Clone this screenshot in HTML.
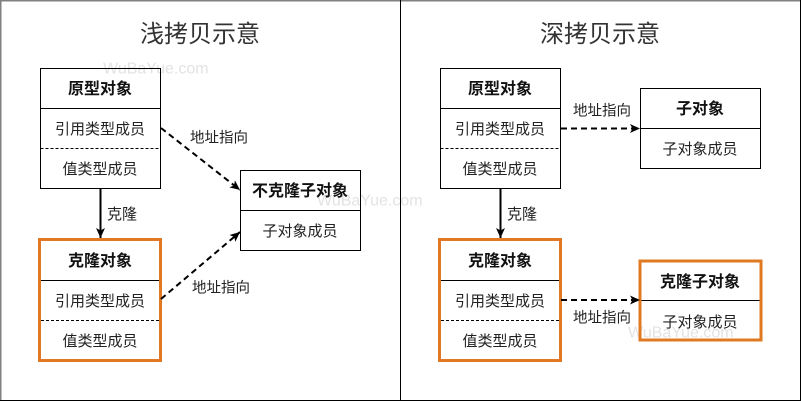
<!DOCTYPE html>
<html><head><meta charset="utf-8"><style>
html,body{margin:0;padding:0;background:#fff;}
svg{display:block;}
text{font-family:"Liberation Sans","Noto Sans CJK SC",sans-serif;fill:#222;}
.t{font-size:15px;text-anchor:middle;dominant-baseline:central;}
.h{font-size:16px;font-weight:bold;text-anchor:middle;dominant-baseline:central;fill:#111;}
.ti{font-size:24px;text-anchor:middle;dominant-baseline:central;fill:#333;}
.l{font-size:14.5px;text-anchor:middle;dominant-baseline:central;fill:#222;}
.w{font-size:16px;fill:#e3e3e3;dominant-baseline:central;font-family:"Liberation Sans",sans-serif;}
</style></head><body>
<svg width="801" height="401" viewBox="0 0 801 401" xmlns="http://www.w3.org/2000/svg">
<defs>
<marker id="ah" markerUnits="userSpaceOnUse" markerWidth="12" markerHeight="10" refX="10" refY="5" orient="auto">
<path d="M0,0.5 L10,5 L0,9.5 L2.5,5 Z" fill="#000"/>
</marker>
</defs>
<rect x="0" y="0" width="801" height="401" fill="#fff"/>
<!-- frame -->
<line x1="0" y1="0.75" x2="801" y2="0.75" stroke="#808080" stroke-width="1.5"/>
<line x1="0.75" y1="0" x2="0.75" y2="401" stroke="#808080" stroke-width="1.5"/>
<line x1="800.5" y1="0" x2="800.5" y2="401" stroke="#000" stroke-width="1"/>
<line x1="0" y1="400.5" x2="801" y2="400.5" stroke="#000" stroke-width="1"/>
<line x1="400.5" y1="0" x2="400.5" y2="401" stroke="#000" stroke-width="1"/>

<!-- watermarks -->
<text class="w" x="103" y="69">WuBaYue.com</text>
<text class="w" x="317" y="201">WuBaYue.com</text>
<text class="w" x="628" y="333">WuBaYue.com</text>

<g transform="translate(0,1.5)">
<text class="ti" x="200" y="33">浅拷贝示意</text>
<text class="h" x="100" y="88">原型对象</text>
<text class="t" x="100" y="128">引用类型成员</text>
<text class="t" x="100" y="168">值类型成员</text>
<text class="h" x="300" y="190">不克隆子对象</text>
<text class="t" x="300" y="230">子对象成员</text>
<text class="t" x="107" y="213" style="text-anchor:start">克隆</text>
<text class="h" x="100" y="260">克隆对象</text>
<text class="t" x="100" y="300">引用类型成员</text>
<text class="t" x="100" y="340">值类型成员</text>
<text class="l" x="219" y="137">地址指向</text>
<text class="l" x="221" y="287">地址指向</text>

<text class="ti" x="600" y="33">深拷贝示意</text>
<text class="h" x="500" y="88">原型对象</text>
<text class="t" x="500" y="128">引用类型成员</text>
<text class="t" x="500" y="168">值类型成员</text>
<text class="h" x="700" y="108">子对象</text>
<text class="t" x="700" y="148">子对象成员</text>
<text class="l" x="602" y="110">地址指向</text>
<text class="t" x="507" y="213" style="text-anchor:start">克隆</text>
<text class="h" x="500" y="260">克隆对象</text>
<text class="t" x="500" y="300">引用类型成员</text>
<text class="t" x="500" y="340">值类型成员</text>
<text class="h" x="700" y="281">克隆子对象</text>
<text class="t" x="700" y="321">子对象成员</text>
<text class="l" x="602" y="317">地址指向</text>
</g>

<!-- LEFT shapes -->
<rect x="40.5" y="68.5" width="120" height="120" fill="none" stroke="#000"/>
<line x1="40.5" y1="108.5" x2="160.5" y2="108.5" stroke="#000"/>
<line x1="40.5" y1="148.5" x2="160.5" y2="148.5" stroke="#000" stroke-dasharray="3,2"/>

<rect x="240.5" y="170.5" width="120" height="80" fill="none" stroke="#000"/>
<line x1="240.5" y1="210.5" x2="360.5" y2="210.5" stroke="#000"/>

<line x1="100.5" y1="189" x2="100.5" y2="238" stroke="#000" stroke-width="2" marker-end="url(#ah)"/>

<rect x="39.5" y="239.5" width="121" height="121" fill="none" stroke="#e07a22" stroke-width="3"/>
<line x1="41" y1="280.5" x2="159" y2="280.5" stroke="#000"/>
<line x1="41" y1="320.5" x2="159" y2="320.5" stroke="#000" stroke-dasharray="3,2"/>

<line x1="161" y1="128" x2="240" y2="190" stroke="#000" stroke-width="2" stroke-dasharray="6,4" marker-end="url(#ah)"/>
<line x1="161" y1="299" x2="240" y2="232" stroke="#000" stroke-width="2" stroke-dasharray="6,4" marker-end="url(#ah)"/>

<!-- RIGHT shapes -->
<rect x="440.5" y="68.5" width="120" height="120" fill="none" stroke="#000"/>
<line x1="440.5" y1="108.5" x2="560.5" y2="108.5" stroke="#000"/>
<line x1="440.5" y1="148.5" x2="560.5" y2="148.5" stroke="#000" stroke-dasharray="3,2"/>

<rect x="640.5" y="88.5" width="120" height="80" fill="none" stroke="#000"/>
<line x1="640.5" y1="128.5" x2="760.5" y2="128.5" stroke="#000"/>

<line x1="561" y1="128.5" x2="640" y2="128.5" stroke="#000" stroke-width="2" stroke-dasharray="6,4" marker-end="url(#ah)"/>

<line x1="500.5" y1="189" x2="500.5" y2="238" stroke="#000" stroke-width="2" marker-end="url(#ah)"/>

<rect x="439.5" y="239.5" width="121" height="121" fill="none" stroke="#e07a22" stroke-width="3"/>
<line x1="441" y1="280.5" x2="559" y2="280.5" stroke="#000"/>
<line x1="441" y1="320.5" x2="559" y2="320.5" stroke="#000" stroke-dasharray="3,2"/>

<rect x="640" y="261" width="121" height="79" fill="none" stroke="#e07a22" stroke-width="3"/>
<line x1="641.5" y1="300.5" x2="759.5" y2="300.5" stroke="#000"/>

<line x1="561" y1="300" x2="640" y2="300" stroke="#000" stroke-width="2" stroke-dasharray="6,4" marker-end="url(#ah)"/>
</svg>
</body></html>
